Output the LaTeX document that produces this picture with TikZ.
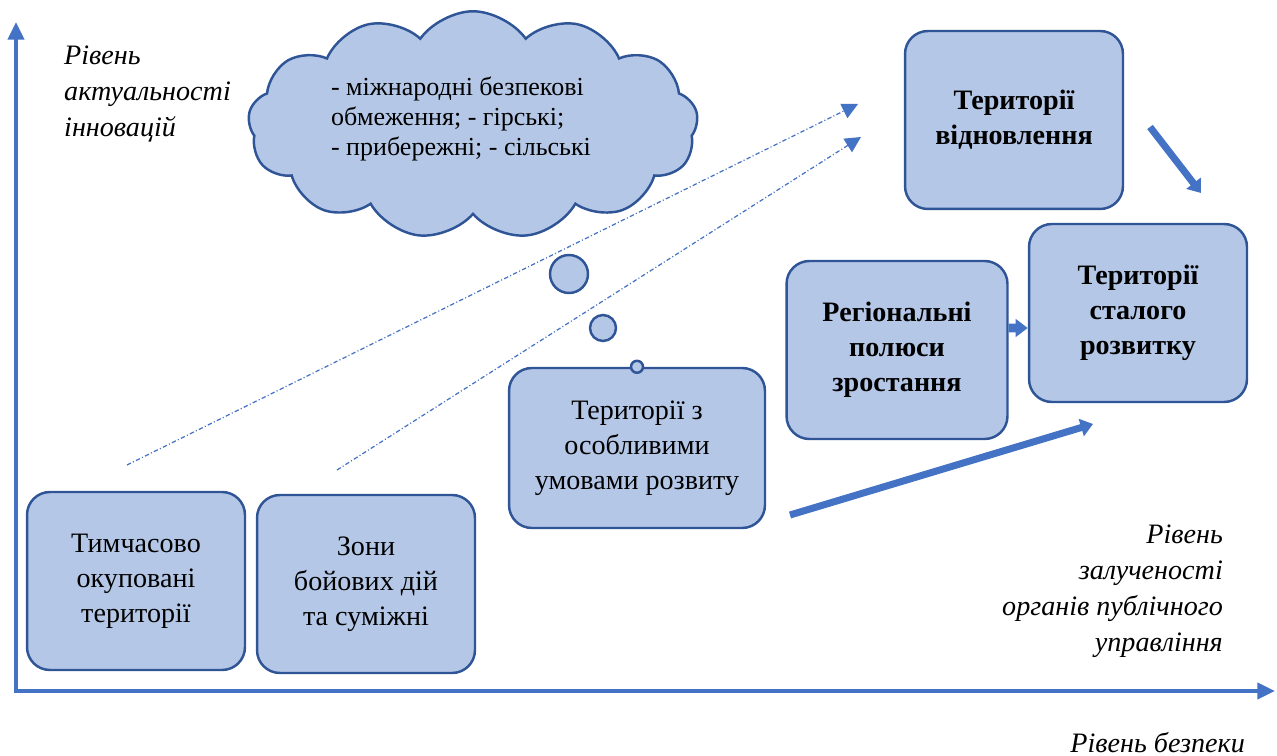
\documentclass[tikz,border=0pt]{standalone}
\usepackage{fontspec}
\setmainfont{Liberation Serif}
\usetikzlibrary{arrows.meta,shapes.symbols}
\definecolor{boxfill}{RGB}{180,199,231}
\definecolor{boxline}{RGB}{47,85,151}
\definecolor{axisblue}{RGB}{68,114,196}
\begin{document}
\begin{tikzpicture}[x=0.02cm,y=-0.02cm,
    terr/.style={draw=boxline,fill=boxfill,line width=1.4pt,rounded corners=13pt,
      minimum width=4.36cm,minimum height=3.56cm,align=center,
      font=\fontsize{16}{20}\selectfont},
    bubble/.style={circle,draw=boxline,fill=boxfill,line width=1.4pt,inner sep=0pt},
    axisline/.style={axisblue,line width=2.4pt,{Triangle[length=10pt,width=9pt]}-{Triangle[length=10pt,width=9pt]}},
    fat/.style={axisblue,draw=axisblue,line width=4pt,-{Triangle[length=7pt,width=10pt]}},
    trend/.style={axisblue,line width=0.7pt,dash pattern=on 2.5pt off 1.3pt on 0.6pt off 1.3pt,
      -{Triangle[length=9pt,width=9pt]}},
    axislabel/.style={font=\fontsize{16}{20.5}\selectfont\itshape}]
  \useasboundingbox (0,0) rectangle (1277,756);
  % axes
  \coordinate (origin) at (16,691);
  \coordinate (ytop) at (16,22);
  \coordinate (xend) at (1275,691);
  \draw[axisline] (ytop) -- (origin) -- (xend);
  \node[axislabel,anchor=north west,align=left] (ylab) at (58,40)
    {Рівень\\актуальності\\інновацій};
  \node[axislabel,anchor=north east,align=right] (glab) at (1229,519)
    {Рівень\\залученості\\органів публічного\\управління};
  \node[axislabel,anchor=base east] (xlab) at (1251,752) {Рівень безпеки};
  % cloud
  \node[cloud,cloud puffs=13,cloud puff arc=110,aspect=2.0,draw=boxline,fill=boxfill,
    line width=1.4pt,minimum width=9cm,minimum height=4.55cm] (cloud) at (473,125) {};
  \node[align=left,font=\fontsize{14.8}{17}\selectfont] (cloudtxt) at (461,119)
    {- міжнародні безпекові\\обмеження; - гірські;\\- прибережні; - сільські};
  \node[bubble,minimum size=0.76cm] (bub1) at (569,274) {};
  \node[bubble,minimum size=0.52cm] (bub2) at (603,328) {};
  % territories
  \node[terr] (occ) at (136,581) {Тимчасово\\окуповані\\території};
  \node[terr] (war) at (366,584) {Зони\\бойових дій\\та суміжні};
  \node[terr,minimum width=5.12cm,minimum height=3.2cm] (spec) at (637,448)
    {Території з\\особливими\\умовами розвиту};
  \node[bubble,minimum size=0.24cm] (knob) at (spec.north) {};
  \node[terr,font=\fontsize{16}{20}\selectfont\bfseries] (rec) at (1014,120)
    {Території\\відновлення};
  \node[terr,font=\fontsize{16}{20}\selectfont\bfseries] (sust) at (1138,313)
    {Території\\сталого\\розвитку};
  \node[terr,minimum width=4.42cm,font=\fontsize{16}{20}\selectfont\bfseries] (pole) at (897,350)
    {Регіональні\\полюси\\зростання};
  % arrows
  \coordinate (t1a) at (127,465);
  \coordinate (t1b) at (858,104);
  \coordinate (t2a) at (337,470);
  \coordinate (t2b) at (861,137);
  \draw[trend] (t1a) -- (t1b);
  \draw[trend] (t2a) -- (t2b);
  \coordinate (r1) at (1150,127);
  \coordinate (r2) at (1201,193);
  \draw[fat] (r1) -- (r2);
  \coordinate (s1) at (790,515);
  \coordinate (s2) at (1093,424);
  \draw[fat] (s1) -- (s2);
  \draw[fat,line width=5pt] ([yshift=0.44cm]pole.east) -- ([yshift=-0.3cm]sust.west);
\end{tikzpicture}
\end{document}
